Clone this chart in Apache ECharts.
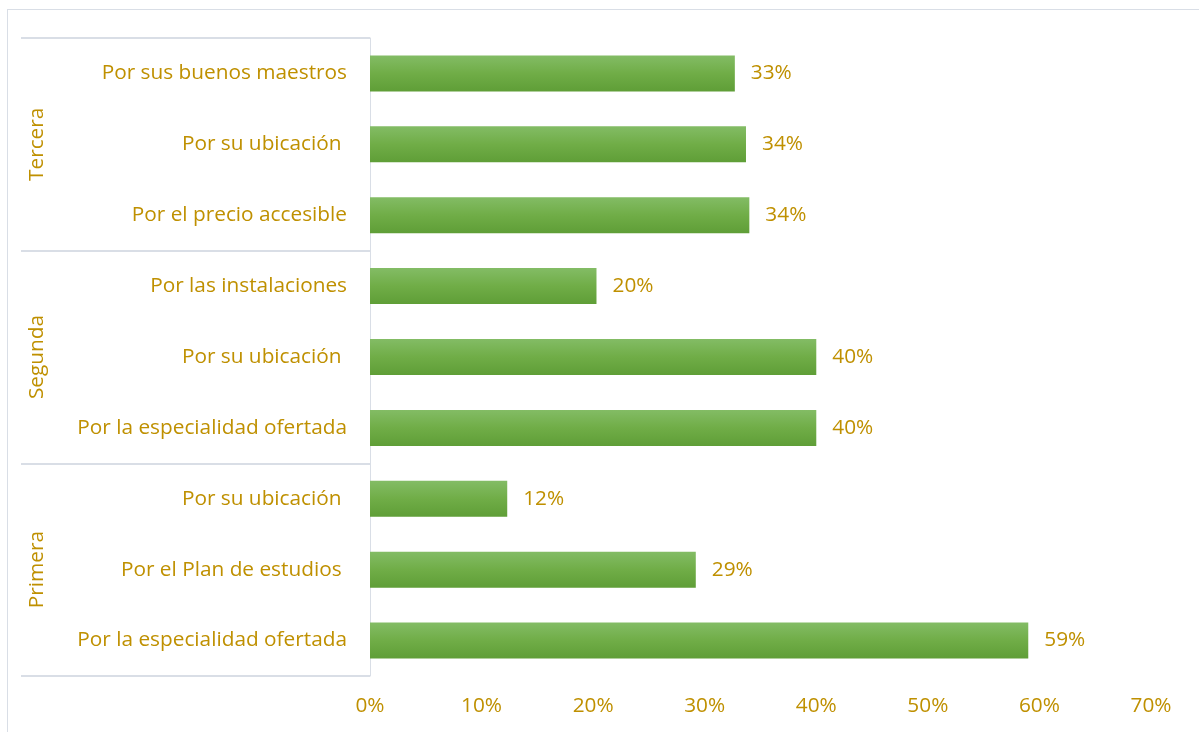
<!DOCTYPE html>
<html>
<head>
<meta charset="utf-8">
<script src="https://cdn.jsdelivr.net/npm/echarts@6/dist/echarts.min.js"></script>
<style>
  html, body { margin: 0; padding: 0; background: #ffffff; }
  #wrap { position: relative; width: 1199px; height: 732px; overflow: hidden; }
  #chart { position: absolute; left: 0; top: 0; width: 1199px; height: 732px; }
  #frame { position: absolute; left: 7px; top: 9px; width: 1200px; height: 740px;
           border: 1px solid #D9DEE6; box-sizing: border-box; pointer-events: none; }
</style>
</head>
<body>
<div id="wrap">
  <div id="frame"></div>
  <div id="chart"></div>
</div>
<script>
// Categories, bottom to top
const categories = [
  'Por la especialidad ofertada',
  'Por el Plan de estudios ',
  'Por su ubicación ',
  'Por la especialidad ofertada',
  'Por su ubicación ',
  'Por las instalaciones',
  'Por el precio accesible',
  'Por su ubicación ',
  'Por sus buenos maestros'
];
// Group labels, bottom to top (3 categories each)
const groups = ['Primera', 'Segunda', 'Tercera'];
// Values (fraction)
const values = [0.590, 0.292, 0.123, 0.400, 0.400, 0.203, 0.340, 0.337, 0.327];
// X axis ticks
const xMin = 0, xMax = 0.7, xStep = 0.1;

const gold = '#BF9000';
const lineColor = '#D9DEE6';
const font = '"Open Sans", Lato, sans-serif';
const fs = 20.8;

const chart = echarts.init(document.getElementById('chart'), null, { renderer: 'canvas' });
chart.setOption({
  backgroundColor: 'transparent',
  animation: false,
  textStyle: { fontFamily: font },
  grid: [
    { left: 370, right: 48, top: 38, bottom: 56, containLabel: false },
    { left: 21, width: 349, top: 38, bottom: 56, containLabel: false }
  ],
  xAxis: [
    {
      gridIndex: 0, type: 'value', min: xMin, max: xMax, interval: xStep,
      axisLine: { show: false }, axisTick: { show: false }, splitLine: { show: false },
      axisLabel: {
        color: gold, fontSize: fs, fontFamily: font, margin: 20,
        formatter: v => Math.round(v * 100) + '%'
      }
    },
    { gridIndex: 1, type: 'value', show: false, min: 0, max: 1 }
  ],
  yAxis: [
    {
      gridIndex: 0, type: 'category', data: categories,
      axisLine: { show: true, lineStyle: { color: lineColor, width: 1 } },
      axisTick: { show: false },
      splitLine: { show: false },
      axisLabel: { color: gold, fontSize: fs, fontFamily: font, margin: 23, interval: 0, padding: [3, 0, 0, 0] }
    },
    {
      gridIndex: 1, type: 'category', data: groups,
      axisLine: { show: false }, axisTick: { show: false },
      splitLine: { show: true, interval: 0, lineStyle: { color: lineColor, width: 2 } },
      axisLabel: { color: gold, fontSize: fs, fontFamily: font, inside: true, rotate: 90, margin: 6, interval: 0 }
    }
  ],
  series: [
    {
      type: 'bar', xAxisIndex: 0, yAxisIndex: 0, data: values,
      barWidth: 36,
      itemStyle: {
        color: new echarts.graphic.LinearGradient(0, 0, 0, 1, [
          { offset: 0, color: '#83BC65' },
          { offset: 0.5, color: '#70AD47' },
          { offset: 1, color: '#5F9E37' }
        ])
      },
      label: {
        show: true, position: 'right', distance: 16, color: gold,
        fontSize: fs, fontFamily: font, padding: [3, 0, 0, 0],
        formatter: p => Math.round(p.value * 100) + '%'
      }
    }
  ]
});
</script>
</body>
</html>
